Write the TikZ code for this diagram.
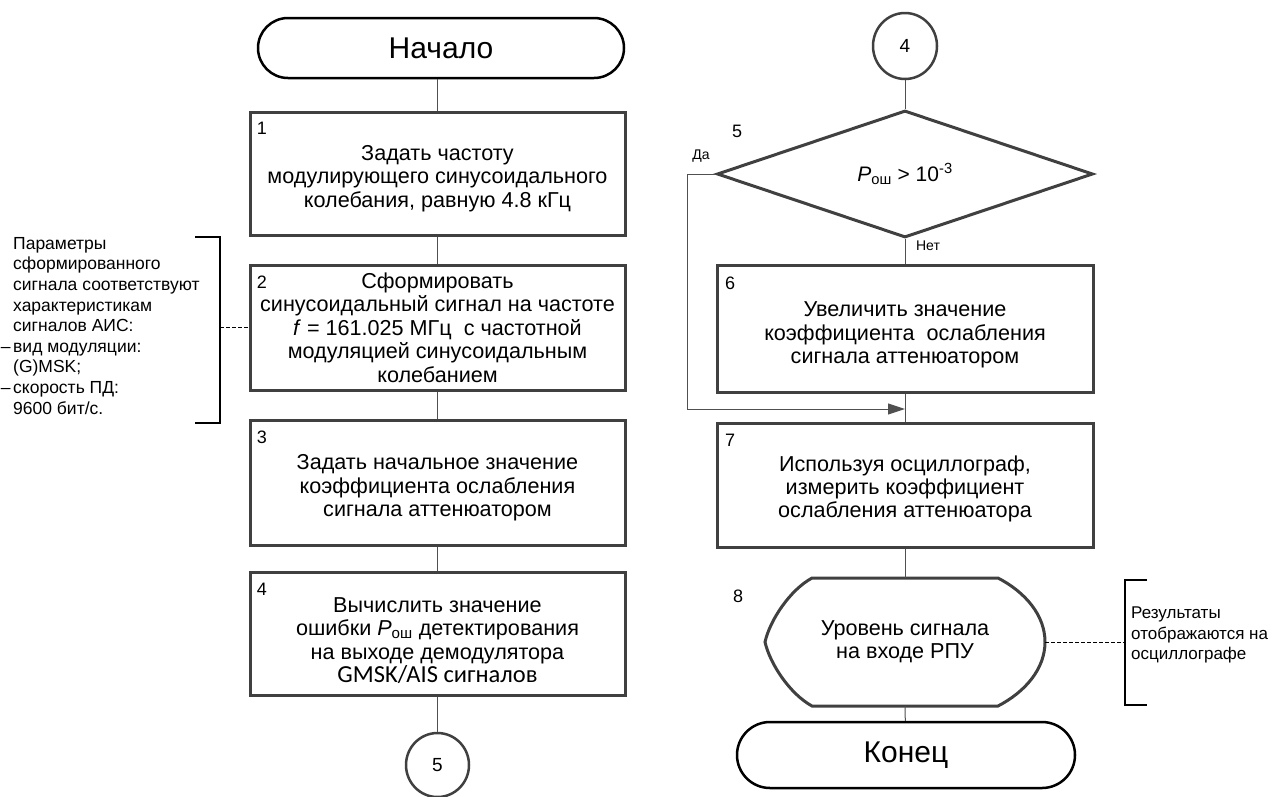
\documentclass[tikz,border=0pt]{standalone}
\usepackage{fontspec}
\setmainfont{Liberation Sans}
\newfontfamily\calibri{Carlito}
\usetikzlibrary{shapes.geometric,arrows.meta}
\definecolor{boxgray}{HTML}{404040}
\definecolor{linegray}{HTML}{505050}
\begin{document}
\begin{tikzpicture}[x=1pt,y=-1pt,
  every node/.style={font=\fontsize{21.6}{23.4}\selectfont, inner sep=0pt},
  procbox/.style={draw=boxgray, line width=3pt, minimum width=375pt},
  boxtext/.style={align=center},
  term/.style={draw=black, line width=2.5pt, font=\fontsize{30}{34}\selectfont},
  conbox/.style={ellipse, draw=boxgray, line width=2.5pt, font=\fontsize{19}{21}\selectfont},
  conn/.style={draw=linegray, line width=1pt},
  numlbl/.style={font=\fontsize{18}{20}\selectfont},
  yn/.style={font=\fontsize{14}{16}\selectfont},
  note/.style={align=left, font=\fontsize{17.5}{20.6}\selectfont},
  brk/.style={draw=black, line width=1.1pt},
  dsh/.style={draw=black, line width=0.9pt, dash pattern=on 3.5pt off 2.5pt},
  arr/.style={-{Triangle[length=17pt,width=11pt]}}
]
\useasboundingbox (0,0) rectangle (1277,796);

% left column
\node[term, minimum width=366pt, minimum height=60pt, rounded corners=30pt] (n0) at (441,48) {Начало};
\node[procbox, minimum height=123pt] (b1) at (437.5,173.5) {};
\node[procbox, minimum height=125pt] (b2) at (437.5,327.5) {};
\node[procbox, minimum height=125pt] (b3) at (437.5,482.5) {};
\node[procbox, minimum height=123pt] (b4) at (437.5,633.5) {};
\node[boxtext] (t1) at (437.5,178.5)
  {Задать частоту\\модулирующего синусоидального\\колебания, равную 4.8 кГц};
\node[boxtext] (t2) at (437.5,327.5)
  {Сформировать\\синусоидальный сигнал на частоте\\\textit{f} = 161.025 МГц\ \ с частотной\\модуляцией синусоидальным\\колебанием};
\node[boxtext] (t3) at (437.5,488)
  {Задать начальное значение\\коэффициента ослабления\\сигнала аттенюатором};
\node[boxtext] (t4) at (437.5,640.5)
  {Вычислить значение\\ошибки \textit{P}\textsubscript{ош} детектирования\\на выходе демодулятора\\{\calibri\fontsize{24.5}{23.4}\selectfont GMSK/AIS сигналов}};
\node[conbox, minimum width=63pt, minimum height=64pt] (c5) at (437.5,765) {5};

\node[numlbl] (l1) at (262,128) {1};
\node[numlbl] (l2) at (262,282) {2};
\node[numlbl] (l3) at (262,437) {3};
\node[numlbl] (l4) at (262,589) {4};

\draw[conn] (b1.north |- n0.south) -- (b1.north);
\draw[conn] (b1) -- (b2);
\draw[conn] (b2) -- (b3);
\draw[conn] (b3) -- (b4);
\draw[conn] (b4) -- (c5);

% right column
\node[conbox, minimum width=64pt, minimum height=66pt] (c4) at (905,46) {4};
\node[diamond, draw=boxgray, line width=3pt, minimum width=376pt, minimum height=127pt, aspect=3, font=\fontsize{21}{23}\selectfont] (d5) at (905,174)
  {\textit{P}\textsubscript{ош} > 10\textsuperscript{-3}};
\node[procbox, minimum width=376pt, minimum height=127pt] (b6) at (905,328.5) {};
\node[procbox, minimum width=376pt, minimum height=124pt] (b7) at (905,485) {};
\node[boxtext] (t6) at (905,335)
  {Увеличить значение\\коэффициента\ \ ослабления\\сигнала аттенюатором};
\node[boxtext] (t7) at (905,489)
  {Используя осциллограф,\\измерить коэффициент\\ослабления аттенюатора};
\node[minimum width=280pt, minimum height=128pt, align=center] (d8) at (905,642)
  {Уровень сигнала\\на входе РПУ};
\draw[draw=boxgray, line width=3pt] (812,578) -- (998,578)
  .. controls (1025,592) and (1045,615) .. (1045,642)
  .. controls (1045,669) and (1025,692) .. (998,706)
  -- (812,706)
  .. controls (790,694) and (770,664) .. (765,642)
  .. controls (770,620) and (790,590) .. (812,578) -- cycle;
\node[term, minimum width=338pt, minimum height=66pt, rounded corners=33pt] (end) at (906,755) {Конец};

\node[numlbl] (l5) at (737,131) {5};
\node[numlbl] (l6) at (730,283) {6};
\node[numlbl] (l7) at (730,440) {7};
\node[numlbl] (l8) at (738,596) {8};
\node[yn] (yes) at (701,156) {Да};
\node[yn] (no) at (928,246) {Нет};

\coordinate (j) at (905,409);
\coordinate (yl) at (687,174);
\draw[conn] (c4) -- (d5.north);
\draw[conn] (d5.south) -- (b6.north);
\draw[conn] (b6) -- (b7);
\draw[conn, arr] (d5.west) -- (yl) |- (j);
\draw[conn] (b7) -- (b7.south |- d8.north);
\draw[conn] (d8.south) -- (end);

% annotations
\node[note, anchor=north west] (note1) at (13,237)
  {Параметры\\сформированного\\сигнала соответствуют\\характеристикам\\сигналов АИС:\\\llap{–\hspace{2.5pt}}вид модуляции:\\(G)MSK;\\\llap{–\hspace{2.5pt}}скорость ПД:\\9600 бит/с.};
\draw[brk] (195,237) -- (220,237) -- (220,423) -- (195,423);
\coordinate (br1) at (220,327.5);
\draw[dsh] (br1) -- (b2.west);

\node[note, anchor=north west, font=\fontsize{17}{20.5}\selectfont] (note2) at (1131,607)
  {Результаты\\отображаются на\\осциллографе};
\draw[brk] (1147,580) -- (1125,580) -- (1125,705) -- (1147,705);
\coordinate (br2) at (1125,642);
\draw[dsh] (d8.east) -- (br2);
\end{tikzpicture}
\end{document}
